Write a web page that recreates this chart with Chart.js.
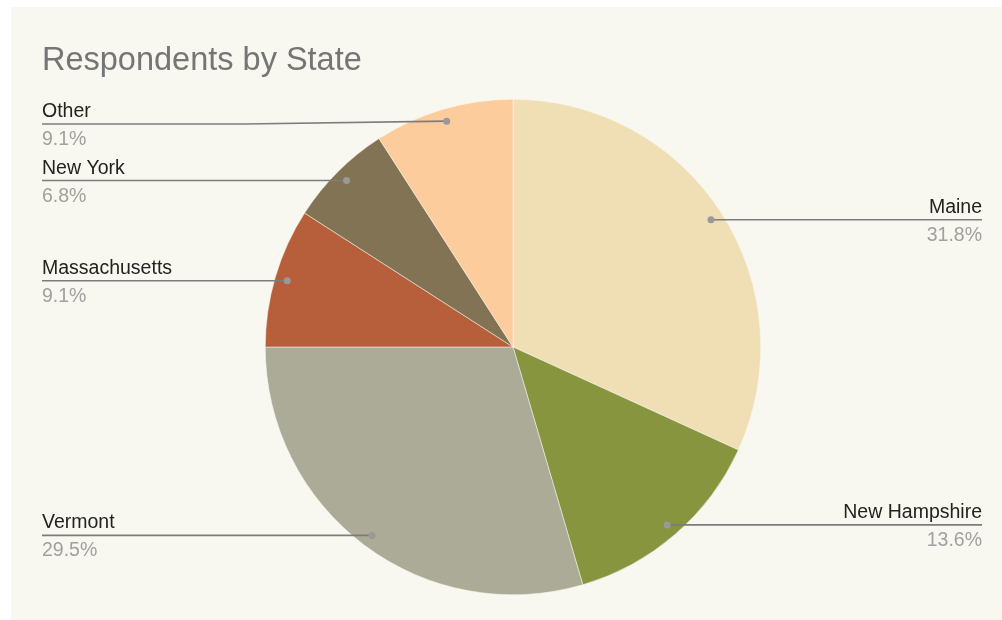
<!DOCTYPE html>
<html>
<head>
<meta charset="utf-8">
<script src="https://cdn.jsdelivr.net/npm/chart.js@4.4.1/dist/chart.umd.min.js"></script>
<style>
  html, body { margin: 0; padding: 0; background: #ffffff; }
  #wrap { position: absolute; left: 0; top: 0; width: 1002px; height: 620px; }
</style>
</head>
<body>
<div id="wrap"><canvas id="chart" width="1002" height="620"></canvas></div>
<script>
const states = ["Maine", "New Hampshire", "Vermont", "Massachusetts", "New York", "Other"];
const respondents = [14, 6, 13, 4, 3, 4];
const sliceColors = ["#f0dfb4", "#87953f", "#abab98", "#b75f3a", "#837355", "#fccc9c"];
const chartTitle = "Respondents by State";

const total = respondents.reduce((a, b) => a + b, 0);

function formatPercent(value) {
  return ((value / total) * 100).toFixed(1) + "%";
}

// panel background + title
const panelPlugin = {
  id: "panel",
  beforeDraw(chart) {
    const ctx = chart.ctx;
    ctx.save();
    ctx.fillStyle = "#f8f8f0";
    ctx.fillRect(11, 7, chart.width - 11, chart.height - 7);
    ctx.fillStyle = "#757575";
    ctx.font = "32.5px 'Liberation Sans', Arial, sans-serif";
    ctx.textBaseline = "alphabetic";
    ctx.textAlign = "left";
    ctx.fillText(chartTitle, 42, 70);
    ctx.restore();
  },
};

// leader-line labels like the spreadsheet chart
const calloutPlugin = {
  id: "callouts",
  afterDatasetsDraw(chart) {
    const ctx = chart.ctx;
    const meta = chart.getDatasetMeta(0);
    const leftX = 42;
    const rightX = 982;
    const minY = 124;
    ctx.save();
    meta.data.forEach((arc, i) => {
      const p = arc.getProps(["x", "y", "startAngle", "endAngle", "outerRadius"], true);
      const mid = (p.startAngle + p.endAngle) / 2;
      const ax = p.x + Math.cos(mid) * p.outerRadius * 0.95;
      const ay = p.y + Math.sin(mid) * p.outerRadius * 0.95;
      const right = Math.cos(mid) >= 0;
      const lineY = Math.max(ay, minY);
      const endX = right ? rightX : leftX;

      ctx.strokeStyle = "#7d7d7d";
      ctx.lineWidth = 1.6;
      ctx.beginPath();
      ctx.moveTo(endX, lineY);
      if (lineY !== ay) {
        ctx.lineTo((endX + ax) / 2, lineY);
      }
      ctx.lineTo(ax, ay);
      ctx.stroke();

      ctx.fillStyle = "#999999";
      ctx.beginPath();
      ctx.arc(ax, ay, 3.5, 0, Math.PI * 2);
      ctx.fill();

      ctx.textAlign = right ? "right" : "left";
      ctx.textBaseline = "alphabetic";
      ctx.font = "19.5px 'Liberation Sans', Arial, sans-serif";
      ctx.fillStyle = "#222222";
      ctx.fillText(states[i], endX, lineY - 7);
      ctx.fillStyle = "#a0a0a0";
      ctx.fillText(formatPercent(respondents[i]), endX, lineY + 21);
    });
    ctx.restore();
  },
};

new Chart(document.getElementById("chart"), {
  type: "pie",
  data: {
    labels: states,
    datasets: [
      {
        data: respondents,
        backgroundColor: sliceColors,
        borderColor: "#f8f8f0",
        borderWidth: 0.5,
      },
    ],
  },
  options: {
    responsive: false,
    animation: false,
    devicePixelRatio: 1,
    layout: {
      padding: { top: 99, bottom: 25, left: 24, right: 0 },
    },
    plugins: {
      legend: { display: false },
      tooltip: { enabled: false },
      title: { display: false },
    },
  },
  plugins: [panelPlugin, calloutPlugin],
});
</script>
</body>
</html>
